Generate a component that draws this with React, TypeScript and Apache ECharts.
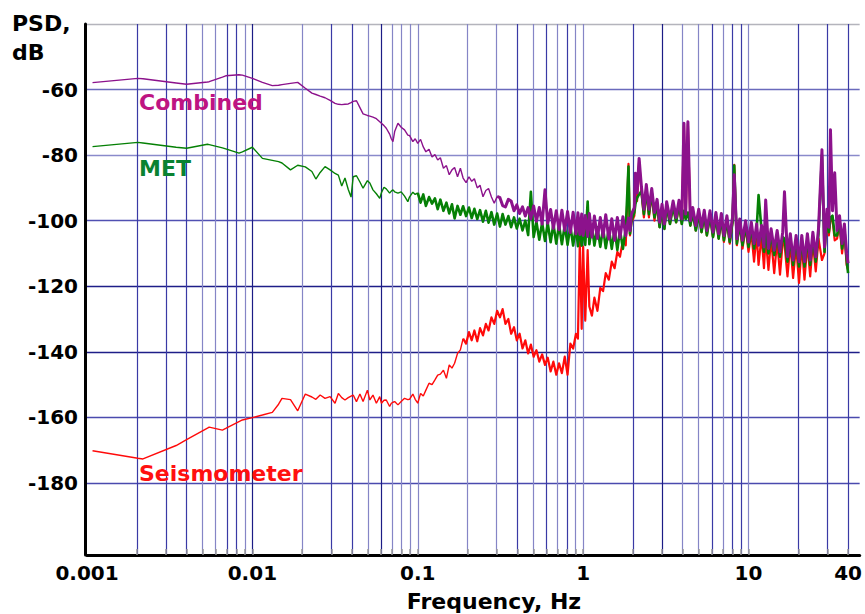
import React, { useEffect, useRef } from "react";
import * as echarts from "echarts";

// Frequency grid (Hz): low band (smooth part) followed by the dense band
const freqHz: number[] = [
  0.00108, 0.00203, 0.00218, 0.00346, 0.004, 0.00535, 0.00548, 0.00659, 0.0069, 0.0083,
  0.0087, 0.01, 0.0115, 0.0132, 0.0144, 0.0151, 0.017, 0.0188, 0.0209, 0.0229,
  0.0242, 0.0257, 0.0275, 0.0295, 0.0316, 0.0331, 0.0347, 0.0363, 0.038, 0.0395,
  0.0407, 0.0426, 0.0447, 0.0467, 0.0496, 0.0513, 0.0536, 0.0562, 0.0589, 0.0603,
  0.0625, 0.0645, 0.0676, 0.0692, 0.0708, 0.0725, 0.0759, 0.0794, 0.0832, 0.0871,
  0.0891, 0.0934, 0.0965,
  0.100, 0.104, 0.108, 0.112, 0.117, 0.122, 0.127, 0.132, 0.137, 0.143,
  0.149, 0.155, 0.161, 0.167, 0.174, 0.181, 0.188, 0.196, 0.204, 0.212,
  0.220, 0.229, 0.238, 0.248, 0.258, 0.268, 0.279, 0.290, 0.302, 0.314,
  0.326, 0.339, 0.353, 0.367, 0.382, 0.397, 0.413, 0.430, 0.447, 0.465,
  0.483, 0.502, 0.522, 0.543, 0.565, 0.588, 0.611, 0.636, 0.661, 0.688,
  0.715, 0.744, 0.774, 0.805, 0.837, 0.870, 0.905, 0.930, 0.955, 0.980,
  1.00, 1.03, 1.065, 1.09, 1.13, 1.17, 1.22, 1.27, 1.32, 1.37,
  1.43, 1.49, 1.55, 1.61, 1.67, 1.74, 1.81, 1.88, 1.92, 1.96,
  2.04, 2.07, 2.12, 2.18, 2.25, 2.33, 2.41, 2.50, 2.60, 2.70,
  2.80, 2.90, 3.00, 3.10, 3.20, 3.35, 3.50, 3.65, 3.80, 3.95,
  4.07, 4.17, 4.30, 4.45, 4.60, 4.80, 5.00, 5.20, 5.40, 5.60,
  5.85, 6.10, 6.35, 6.60, 6.85, 7.10, 7.40, 7.70, 8.00, 8.20,
  8.50, 8.85, 9.20, 9.60, 10.0, 10.4, 10.8, 11.2, 11.5, 12.0,
  12.4, 12.7, 13.2, 13.7, 14.3, 14.9, 15.5, 16.1, 16.5, 17.2,
  17.9, 18.6, 19.4, 20.2, 21.0, 21.8, 22.7, 23.6, 24.5, 25.5,
  26.5, 27.8, 28.8, 29.8, 30.6, 31.3, 32.2, 33.2, 34.3, 35.5,
  36.8, 38.0, 39.2, 40.0,
];

const combinedDb: number[] = [
  -57.9, -56.6, -56.7, -58.0, -58.4, -57.7, -57.6, -56.2, -55.8, -55.5,
  -55.6, -56.6, -57.8, -58.8, -58.7, -58.5, -58.1, -57.8, -59.6, -61.1,
  -61.5, -62.0, -62.5, -63.3, -64.2, -64.5, -64.6, -64.5, -64.4, -64.0,
  -63.6, -63.4, -65.5, -67.4, -67.9, -68.1, -68.4, -68.9, -69.8, -70.3,
  -71.0, -71.8, -73.6, -75.0, -75.9, -72.8, -70.3, -71.5, -72.3, -73.9,
  -74.0, -75.9, -75.0,
  -76.4, -75.2, -77.5, -79.0, -78.2, -80.6, -79.8, -81.5, -80.8, -84.0,
  -83.2, -86.0, -84.5, -83.8, -86.6, -84.0, -87.0, -88.4, -86.6, -88.0,
  -87.2, -90.0, -89.2, -92.7, -90.8, -90.2, -92.8, -94.7, -92.6, -93.0,
  -95.4, -95.8, -93.5, -94.0, -97.0, -95.2, -97.8, -95.8, -98.6, -96.0,
  -99.4, -95.5, -100.2, -96.0, -101.0, -90.6, -100.8, -96.6, -102.4, -97.0,
  -102.8, -96.8, -103.0, -97.2, -103.6, -97.4, -104.0, -97.6, -104.2, -98.0,
  -104.5, -98.4, -104.8, -97.8, -105.0, -98.6, -105.4, -99.0, -104.8, -98.2,
  -105.6, -99.4, -106.0, -99.0, -105.2, -98.8, -104.6, -99.2, -103.0, -98.0,
  -96.0, -85.5, -91.5, -81.0, -89.5, -96.5, -89.0, -96.5, -90.2, -97.5,
  -93.5, -100.5, -95.0, -101.0, -94.2, -99.5, -94.0, -99.0, -93.8, -99.5,
  -70.3, -98.0, -69.8, -100.0, -96.0, -101.5, -96.5, -102.0, -96.8, -103.0,
  -97.0, -103.5, -97.5, -104.0, -97.8, -104.5, -98.5, -105.0, -99.0, -86.0,
  -105.5, -99.5, -106.0, -100.0, -106.5, -100.5, -107.0, -101.0, -107.5, -101.5,
  -108.0, -93.7, -108.5, -102.5, -109.0, -103.0, -109.5, -103.5, -91.2, -111.0,
  -104.0, -112.0, -104.5, -112.5, -104.5, -112.5, -104.0, -112.0, -103.5, -111.0,
  -102.5, -78.4, -108.0, -96.5, -102.0, -72.3, -97.0, -85.4, -103.0, -98.5,
  -107.0, -101.0, -110.0, -113.0,
];

const metDb: number[] = [
  -77.4, -76.1, -76.3, -77.6, -77.9, -76.7, -76.8, -77.8, -78.1, -79.4,
  -79.0, -77.6, -81.0, -81.6, -82.0, -82.4, -84.5, -83.1, -83.6, -85.0,
  -87.3, -85.3, -83.5, -84.5, -85.6, -86.1, -89.4, -87.0, -90.5, -92.8,
  -86.6, -86.3, -88.2, -90.1, -87.8, -88.5, -90.6, -91.8, -93.2, -91.5,
  -89.8, -90.3, -91.6, -91.0, -90.6, -91.2, -91.6, -91.2, -92.5, -94.2,
  -92.8, -91.3, -92.0,
  -91.5, -94.5, -92.0, -95.5, -92.8, -94.8, -93.2, -96.5, -93.6, -97.0,
  -94.5, -97.8, -95.0, -99.3, -95.5, -98.2, -95.6, -98.6, -96.0, -99.2,
  -96.4, -99.5, -96.8, -100.3, -97.0, -100.6, -97.4, -101.2, -97.8, -101.8,
  -98.0, -101.2, -98.6, -102.0, -99.0, -102.4, -99.4, -103.0, -100.0, -104.4,
  -91.2, -105.0, -100.4, -105.8, -100.6, -106.2, -100.8, -106.6, -101.0, -107.0,
  -101.2, -107.2, -101.4, -107.4, -101.6, -107.6, -101.8, -107.8, -102.0, -107.6,
  -101.6, -107.4, -94.2, -107.2, -101.5, -107.6, -102.0, -108.0, -102.2, -108.4,
  -102.4, -108.6, -102.6, -109.0, -102.8, -108.6, -102.4, -83.5, -104.0, -100.0,
  -97.5, -95.0, -93.0, -92.0, -91.0, -98.0, -90.5, -98.0, -91.5, -99.0,
  -95.0, -102.0, -96.5, -102.5, -95.5, -101.0, -95.5, -100.5, -95.0, -101.0,
  -97.0, -99.5, -97.5, -101.5, -97.5, -103.0, -98.0, -103.5, -98.3, -104.5,
  -98.5, -105.0, -99.0, -105.5, -99.3, -106.0, -100.0, -106.5, -100.5, -83.2,
  -107.0, -101.0, -107.5, -101.5, -108.0, -102.0, -108.5, -102.5, -92.2, -103.0,
  -109.5, -103.5, -110.0, -104.0, -110.5, -104.5, -111.0, -105.0, -105.5, -112.5,
  -105.5, -113.5, -106.0, -114.0, -106.0, -114.0, -105.5, -113.5, -105.0, -112.5,
  -104.0, -80.0, -109.5, -98.0, -103.5, -99.0, -98.5, -104.5, -104.5, -100.0,
  -108.5, -102.5, -112.0, -116.0,
];

const seismometerDb: number[] = [
  -170.2, -172.5, -172.7, -168.6, -166.8, -163.3, -163.0, -163.9, -163.4, -161.3,
  -160.8, -160.1, -159.3, -158.5, -156.0, -154.2, -154.6, -158.0, -152.9, -153.8,
  -154.5, -153.2, -154.2, -153.7, -155.7, -152.7, -154.0, -154.7, -154.0, -153.5,
  -153.2, -155.2, -152.9, -155.2, -151.7, -154.7, -153.2, -155.7, -153.7, -155.7,
  -154.8, -154.7, -156.7, -155.7, -155.4, -155.2, -156.2, -155.2, -154.2, -154.6,
  -154.5, -152.9, -154.5,
  -155.7, -152.7, -153.5, -151.7, -149.6, -150.0, -148.6, -147.1, -146.8, -145.6,
  -148.1, -144.0, -145.0, -143.5, -140.5, -139.4, -136.0, -137.5, -134.0, -136.5,
  -133.5, -136.8, -132.8, -135.0, -131.5, -133.5, -129.5, -131.5, -127.5, -129.5,
  -127.0, -131.5, -130.0, -134.5, -132.5, -136.5, -134.5, -139.0, -136.5, -140.5,
  -137.8, -141.5, -139.5, -143.0, -140.8, -144.0, -141.8, -146.0, -143.0, -147.0,
  -143.5, -146.5, -141.5, -147.0, -137.5, -139.0, -134.5, -136.0, -105.9, -133.0,
  -107.9, -130.5, -109.0, -126.2, -129.0, -123.5, -127.5, -120.5, -121.5, -116.0,
  -118.0, -112.5, -114.5, -109.5, -111.0, -106.0, -107.5, -82.7, -104.5, -100.5,
  -98.5, -87.0, -94.0, -82.0, -91.0, -99.0, -91.0, -99.0, -92.0, -100.0,
  -95.0, -102.0, -96.5, -102.5, -95.5, -101.0, -95.5, -100.5, -95.5, -101.0,
  -71.0, -99.5, -70.5, -101.5, -97.5, -103.0, -98.0, -103.5, -98.5, -104.5,
  -98.5, -105.0, -99.0, -105.5, -99.5, -106.5, -100.0, -107.0, -100.5, -83.0,
  -107.5, -101.0, -108.5, -102.0, -109.5, -103.5, -112.5, -104.0, -113.5, -104.5,
  -114.5, -105.0, -115.0, -105.5, -116.0, -106.0, -116.5, -106.5, -107.0, -117.0,
  -107.0, -117.5, -107.5, -119.0, -107.5, -118.0, -107.0, -117.0, -106.5, -115.5,
  -105.5, -112.0, -110.0, -99.0, -104.5, -100.0, -99.5, -106.0, -105.5, -101.0,
  -110.0, -103.5, -113.5, -115.0,
];

const xLabelValues: number[] = [0.001, 0.01, 0.1, 1, 10, 40];
const xGridValues: number[] = [
  0.002, 0.003, 0.004, 0.005, 0.006, 0.007, 0.008, 0.009, 0.01,
  0.02, 0.03, 0.04, 0.05, 0.06, 0.07, 0.08, 0.09, 0.1,
  0.2, 0.3, 0.4, 0.5, 0.6, 0.7, 0.8, 0.9, 1,
  2, 3, 4, 5, 6, 7, 8, 9, 10,
  20, 30, 40,
];
const yLabelValues: number[] = [-180, -160, -140, -120, -100, -80, -60];
const yGridValues: number[] = [-180, -160, -140, -120, -100, -80, -60, -40];

const seriesNames = ["Seismometer", "MET", "Combined"];

export default function App() {
  const ref = useRef<HTMLDivElement>(null);

  useEffect(() => {
    document.body.style.margin = "0";
    if (!ref.current) return;
    const chart = echarts.init(ref.current, undefined, { renderer: "svg" });

    const T = "#3a3aa5";
    const L = "#8585c6";
    const D = "#1c1c85";
    const xGridColors = [
      T, T, T, L, L, T, T, L, D,
      L, T, T, L, D, L, L, L, L,
      L, L, T, L, T, L, T, L, L,
      T, D, L, L, T, L, T, T, L,
      T, T, T,
    ];
    const yGridColors = [
      "#4a4aae", "#4a4aae", "#1e1e88", "#1e1e88", "#5050b2", "#8a8acb", "#6a6abc", "#b4b4bc",
    ];

    const font = '"DejaVu Sans", "Liberation Sans", Arial, sans-serif';
    const pairs = (vals: number[]) =>
      freqHz.slice(0, vals.length).map((f, i) => [f, vals[i]]);

    // each curve: a thin smooth low-frequency part and a thick noisy part
    const curve = (name: string, vals: number[], color: string, split: number, thick: number) => {
      const all = pairs(vals);
      const base = {
        name,
        type: "line",
        showSymbol: false,
        symbol: "none",
        silent: true,
        itemStyle: { color },
      };
      return [
        { ...base, data: all.slice(0, split + 1), lineStyle: { color, width: 1.4 } },
        { ...base, data: all.slice(split), lineStyle: { color, width: thick, join: "round" } },
      ];
    };

    const option: any = {
      animation: false,
      backgroundColor: "#ffffff",
      grid: { left: 87, right: 0, top: 24, bottom: 59, containLabel: false },
      xAxis: {
        type: "log",
        logBase: 10,
        min: 0.001,
        max: 47,
        axisLine: { show: true, onZero: false, lineStyle: { color: "#000", width: 3 } },
        axisTick: {
          show: true,
          inside: true,
          length: 6,
          customValues: xGridValues,
          lineStyle: { color: "#9a9a9a", width: 1.5 },
        },
        axisLabel: {
          customValues: xLabelValues,
          formatter: (v: number) => String(+(+v).toPrecision(3)),
          fontFamily: font,
          fontWeight: "bold",
          fontSize: 20,
          color: "#000",
          margin: 8,
        },
        splitLine: { show: true, lineStyle: { color: xGridColors, width: 1.2 } },
        minorTick: { show: false },
        minorSplitLine: { show: false },
      },
      yAxis: {
        type: "value",
        min: -202,
        max: -40,
        offset: 2,
        axisLine: { show: true, onZero: false, lineStyle: { color: "#000", width: 3 } },
        axisTick: { show: false, customValues: yGridValues },
        axisLabel: {
          customValues: yLabelValues,
          formatter: (v: number) => String(Math.round(v)),
          fontFamily: font,
          fontWeight: "bold",
          fontSize: 20,
          color: "#000",
          margin: 7,
        },
        splitLine: { show: true, lineStyle: { color: yGridColors, width: 1.3 } },
      },
      graphic: [
        {
          type: "text",
          x: 12,
          y: 23,
          style: { text: "PSD,", font: `bold 22px ${font}`, fill: "#000", verticalAlign: "middle", align: "left" },
        },
        {
          type: "text",
          x: 12,
          y: 52,
          style: { text: "dB", font: `bold 22px ${font}`, fill: "#000", verticalAlign: "middle", align: "left" },
        },
        {
          type: "text",
          x: 494,
          y: 601,
          style: { text: "Frequency, Hz", font: `bold 22px ${font}`, fill: "#000", verticalAlign: "middle", align: "center" },
        },
        {
          type: "text",
          x: 139,
          y: 102,
          z: 20,
          style: { text: "Combined", font: `bold 22px ${font}`, fill: "#be1482", verticalAlign: "middle", align: "left" },
        },
        {
          type: "text",
          x: 139,
          y: 168,
          z: 20,
          style: { text: "MET", font: `bold 22px ${font}`, fill: "#0a8232", verticalAlign: "middle", align: "left" },
        },
        {
          type: "text",
          x: 139,
          y: 473,
          z: 20,
          style: { text: "Seismometer", font: `bold 22px ${font}`, fill: "#ff1010", verticalAlign: "middle", align: "left" },
        },
      ],
      series: [
        ...curve(seriesNames[0], seismometerDb, "#ff0a0a", 69, 2.2),
        ...curve(seriesNames[1], metDb, "#058005", 53, 2.6),
        ...curve(seriesNames[2], combinedDb, "#8c128c", 81, 3.0),
      ],
    };

    chart.setOption(option);
    return () => {
      chart.dispose();
    };
  }, []);

  return <div ref={ref} style={{ width: 865, height: 614 }} />;
}
